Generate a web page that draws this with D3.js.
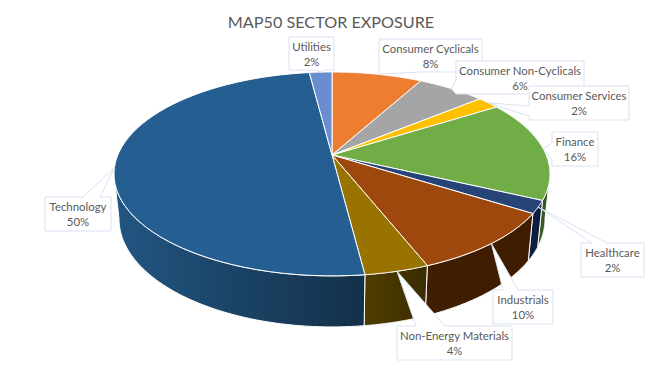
<!DOCTYPE html>
<html>
<head>
<meta charset="utf-8">
<script src="https://cdn.jsdelivr.net/npm/d3@7"></script>
<style>
  html, body { margin: 0; padding: 0; background: #fff; }
  svg { display: block; }
  text { font-family: Lato, sans-serif; fill: #595959; text-anchor: middle; }
</style>
</head>
<body>
<svg id="chart" width="664" height="367"></svg>
<script>
const sectors = ["Consumer Cyclicals", "Consumer Non-Cyclicals", "Consumer Services", "Finance", "Healthcare", "Industrials", "Non-Energy Materials", "Technology", "Utilities"];
const shares = [8, 6, 2, 16, 2, 10, 4, 50, 2];
const topColors = ["#ed7d31", "#a5a5a5", "#ffc000", "#70ad47", "#264478", "#9e480e", "#997300", "#255e91", "#698ed0"];
const wallLeft = ["#77401a", "#535353", "#806000", "#3d6127", "#0f2347", "#3f1e02", "#503d00", "#215682", "#354868"];
const wallRight = ["#77401a", "#535353", "#806000", "#344f20", "#0b1a38", "#3f1c00", "#3b2c00", "#143049", "#354868"];

// label box, and which side the pointer leaves from with its two base offsets
const calloutBoxes = [
  { x: 379, y: 39, w: 103, h: 33, side: "bottom", b: [379, 420] },
  { x: 456, y: 61, w: 128, h: 33, side: "left", b: [80, 94] },
  { x: 529, y: 86, w: 100, h: 34, side: "left", b: [106, 116] },
  { x: 552, y: 132, w: 46, h: 34, side: "left", b: [143, 160] },
  { x: 581, y: 243, w: 63, h: 34, side: "top", b: [592, 607] },
  { x: 493, y: 290, w: 60, h: 34, side: "top", b: [503, 518] },
  { x: 397, y: 326, w: 115, h: 34, side: "top", b: [416, 445] },
  { x: 45, y: 197, w: 66, h: 34, side: "top", b: [83, 100] },
  { x: 289, y: 37, w: 45, h: 33, side: "bottom", b: [315, 325] }
];

const svg = d3.select("#chart");
const defs = svg.append("defs");

const cx = 332, cy = 155, radius = 214.2, radiusY = 98.4, persp = 0.186;
const lowerX = 0.977, lowerY = 1.06, lowerShift = 43.8;
const wallFrom = 100.7 * Math.PI / 180, wallTo = 259.3 * Math.PI / 180;

// angle (clockwise from the back of the pie) to screen, with a bit of perspective
function project(a) {
  const u = Math.sin(a), v = Math.cos(a);
  const s = 1 / (1 + persp * v);
  return [cx + radius * u * s, cy - radiusY * v * s];
}
function projectLower(a) {
  const p = project(a);
  return [cx + (p[0] - cx) * lowerX, cy + (p[1] - cy) * lowerY + lowerShift];
}

const arcs = d3.pie().sort(null)(shares);
const line = d3.line();
const sample = (a0, a1) => d3.range(0, 61).map(i => a0 + (a1 - a0) * i / 60);

// walls first
arcs.forEach((d, i) => {
  const a0 = Math.max(d.startAngle, wallFrom), a1 = Math.min(d.endAngle, wallTo);
  if (a1 <= a0) return;
  const grad = defs.append("linearGradient").attr("id", "wall" + i);
  grad.append("stop").attr("offset", "0%").attr("stop-color", wallLeft[i]);
  grad.append("stop").attr("offset", "100%").attr("stop-color", wallRight[i]);
  const angles = sample(a0, a1);
  const pts = angles.map(project).concat(angles.slice().reverse().map(projectLower));
  svg.append("path")
    .attr("d", line(pts) + "Z")
    .attr("fill", `url(#wall${i})`)
    .attr("stroke", "#fff")
    .attr("stroke-width", 1);
});

// top face
arcs.forEach((d, i) => {
  const pts = [[cx, cy]].concat(sample(d.startAngle, d.endAngle).map(project));
  svg.append("path")
    .attr("d", line(pts) + "Z")
    .attr("fill", topColors[i])
    .attr("stroke", "#fff")
    .attr("stroke-width", 1)
    .attr("stroke-linejoin", "round");
});

// callouts, later ones sit over earlier ones
function calloutPath(box, tip) {
  const x0 = box.x, x1 = box.x + box.w, y0 = box.y, y1 = box.y + box.h;
  const [b0, b1] = box.b;
  if (box.side === "top")
    return `M${x0},${y0}L${b0},${y0}L${tip[0]},${tip[1]}L${b1},${y0}L${x1},${y0}L${x1},${y1}L${x0},${y1}Z`;
  if (box.side === "bottom")
    return `M${x0},${y0}L${x1},${y0}L${x1},${y1}L${b1},${y1}L${tip[0]},${tip[1]}L${b0},${y1}L${x0},${y1}Z`;
  return `M${x0},${y0}L${x1},${y0}L${x1},${y1}L${x0},${y1}L${x0},${b1}L${tip[0]},${tip[1]}L${x0},${b0}Z`;
}

arcs.forEach((d, i) => {
  const box = calloutBoxes[i];
  const tip = project((d.startAngle + d.endAngle) / 2);
  const g = svg.append("g");
  g.append("path")
    .attr("d", calloutPath(box, tip))
    .attr("fill", "#fff")
    .attr("stroke", "#d9e2f3")
    .attr("stroke-width", 1);
  g.append("text")
    .attr("x", box.x + box.w / 2)
    .attr("y", box.y + 13.5)
    .style("font-size", "11.4px")
    .text(sectors[i]);
  g.append("text")
    .attr("x", box.x + box.w / 2)
    .attr("y", box.y + 28.5)
    .style("font-size", "11.4px")
    .text(shares[i] + "%");
});

svg.append("text")
  .attr("x", 331)
  .attr("y", 28)
  .style("font-size", "16.2px")
  .text("MAP50 SECTOR EXPOSURE");
</script>
</body>
</html>
